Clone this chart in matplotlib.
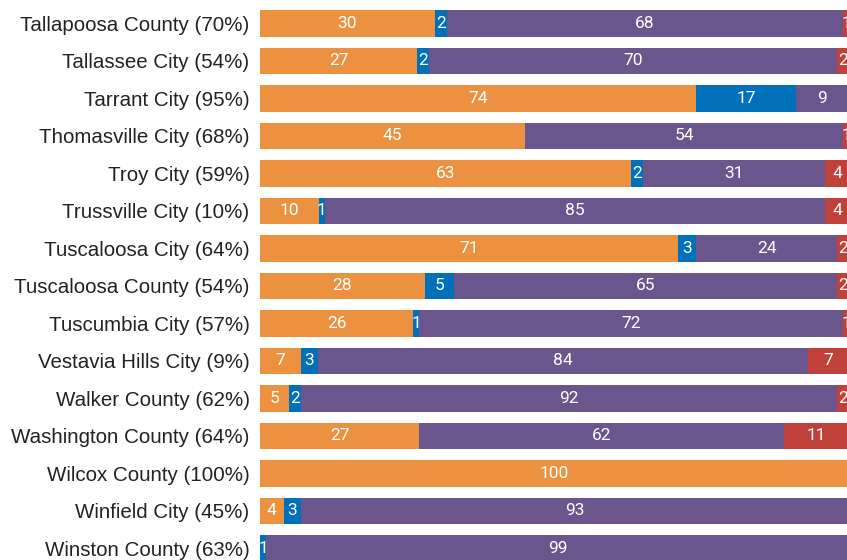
import matplotlib
matplotlib.use("Agg")
import matplotlib.pyplot as plt
import numpy as np

categories = [
    "Tallapoosa County (70%)", "Tallassee City (54%)", "Tarrant City (95%)",
    "Thomasville City (68%)", "Troy City (59%)", "Trussville City (10%)",
    "Tuscaloosa City (64%)", "Tuscaloosa County (54%)", "Tuscumbia City (57%)",
    "Vestavia Hills City (9%)", "Walker County (62%)", "Washington County (64%)",
    "Wilcox County (100%)", "Winfield City (45%)", "Winston County (63%)",
]
orange_vals = [30, 27, 74, 45, 63, 10, 71, 28, 26, 7, 5, 27, 100, 4, 0]
blue_vals   = [2, 2, 17, 0, 2, 1, 3, 5, 1, 3, 2, 0, 0, 3, 1]
purple_vals = [68, 70, 9, 54, 31, 85, 24, 65, 72, 84, 92, 62, 0, 93, 99]
red_vals    = [1, 2, 0, 1, 4, 4, 2, 2, 1, 7, 2, 11, 0, 0, 0]

series = [orange_vals, blue_vals, purple_vals, red_vals]
colors = ["#EB9140", "#0070BA", "#6A568D", "#C0403A"]

W, H = 847, 560
fig = plt.figure(figsize=(W / 100, H / 100), dpi=100)
ax = fig.add_axes([260 / W, 0, 589 / W, 1])

data = np.array(series, dtype=float)
totals = data.sum(axis=0)
shares = data / totals * 100  # each bar normalised to 100 %

y = np.arange(len(categories))
left = np.zeros(len(categories))
for vals, shr, col in zip(data, shares, colors):
    ax.barh(y, shr, left=left, height=0.71, color=col, linewidth=0)
    for yi, l, v, s in zip(y, left, vals, shr):
        if v > 0:
            ax.text(l + s / 2, yi, f"{int(v)}", ha="center", va="center",
                    color="white", fontsize=12.5, family="Roboto")
    left += shr

ax.set_xlim(0, 100)
top = -23.4 / 37.5
ax.set_ylim(top + H / 37.5, top)
ax.set_yticks(y)
ax.set_yticklabels(categories, fontsize=14.8, family="Liberation Sans", color="#222222")
ax.tick_params(axis="y", length=0, pad=7.5)
ax.tick_params(axis="x", bottom=False, labelbottom=False)
for s in ax.spines.values():
    s.set_visible(False)

fig.savefig("out.png", dpi=100)
